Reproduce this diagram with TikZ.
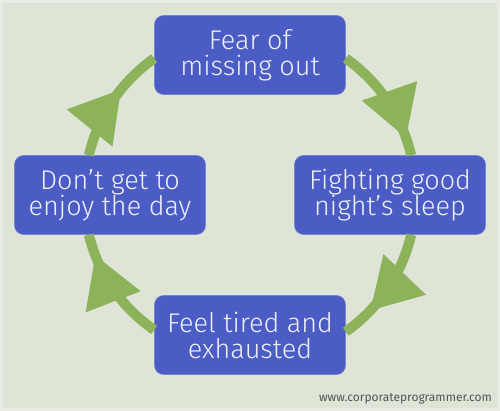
\documentclass[tikz,border=0pt]{standalone}
\usepackage{fontspec}
\newfontfamily\labfont{Fira Sans Light}
\newfontfamily\urlfont{Fira Sans}
\usetikzlibrary{arrows.meta,decorations.markings}
\definecolor{bg}{HTML}{DEE4D6}
\definecolor{frame}{HTML}{E8ECE3}
\definecolor{boxblue}{HTML}{4B5CC4}
\definecolor{ringgreen}{HTML}{8CB35A}
\definecolor{txt}{HTML}{EEF0FA}
\definecolor{urlgray}{HTML}{555555}
\begin{document}
\begin{tikzpicture}[x=1pt,y=-1pt,
  stage/.style={rectangle, rounded corners=9pt, fill=boxblue, draw=boxblue!75!white,
    line width=0.6pt, minimum width=191pt, minimum height=79pt, inner sep=0pt,
    text=txt, font=\labfont\fontsize{27}{26}\selectfont, align=center},
  ring/.style={color=ringgreen, draw=ringgreen, line width=10pt, bend left=20.5, looseness=0.9},
  head/.style={postaction={decorate}, decoration={markings,
    mark=at position #1 with {\arrow{Triangle[length=50pt,width=56pt]}}}}
]
\useasboundingbox (0,0) rectangle (500,411);
\fill[bg] (0,0) rectangle (500,411);
\draw[frame, line width=3pt] (1.5,1.5) rectangle (498.5,409.5);

\node[stage] (fear)  at (250,55)  {Fear of\\missing out};
\node[stage] (fight) at (390,195) {Fighting good\\night’s sleep};
\node[stage] (tired) at (250,335) {Feel tired and\\exhausted};
\node[stage] (enjoy) at (110,195) {Don’t get to\\enjoy the day};

\draw[ring, head=0.85] (fear.-2.5) to (fight.62);
\draw[ring, head=0.73] (fight.-62) to (tired.2.5);
\draw[ring, head=0.82] (tired.177.5) to (enjoy.-118);
\draw[ring, head=0.62] (enjoy.118) to (fear.182.5);

\node[anchor=east, inner sep=0pt, text=urlgray, font=\urlfont\fontsize{12}{12}\selectfont]
  (url) at (492,399) {www.corporateprogrammer.com};
\end{tikzpicture}
\end{document}
